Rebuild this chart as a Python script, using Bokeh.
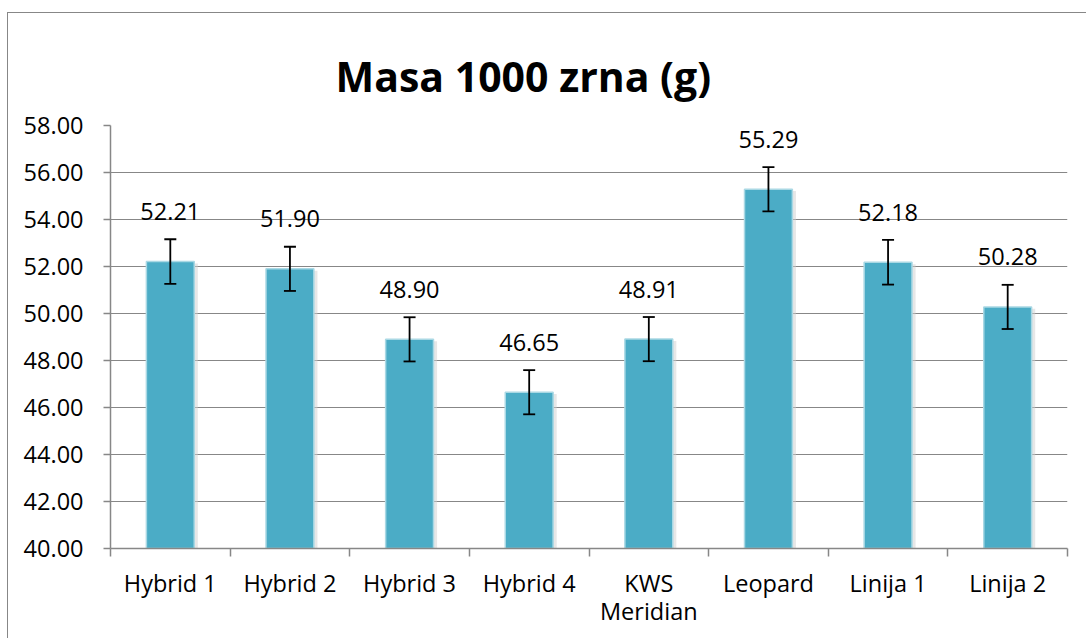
from bokeh.plotting import figure
from bokeh.models import ColumnDataSource, FixedTicker, Whisker, TeeHead, Range1d, NumeralTickFormatter, Title
from bokeh.core.properties import value
from bokeh.embed import file_html
from bokeh.resources import INLINE

categories = ["Hybrid 1", "Hybrid 2", "Hybrid 3", "Hybrid 4", "KWS\nMeridian", "Leopard", "Linija 1", "Linija 2"]
means = [52.21, 51.90, 48.90, 46.65, 48.91, 55.29, 52.18, 50.28]
errors = [0.95, 0.94, 0.94, 0.94, 0.94, 0.94, 0.95, 0.94]
y_ticks = [40, 42, 44, 46, 48, 50, 52, 54, 56, 58]

FONT = "Open Sans"
GRAY = "#878787"
FS = "23.5px"

xs = [i + 0.5 for i in range(len(categories))]
src = ColumnDataSource(dict(
    x=xs, top=means,
    upper=[m + e for m, e in zip(means, errors)],
    lower=[m - e for m, e in zip(means, errors)],
    label=[f"{m:.2f}" for m in means],
))

p = figure(frame_width=957, frame_height=423, output_backend="svg", toolbar_location=None,
           x_range=Range1d(0, len(categories)), y_range=Range1d(40, 58),
           min_border_left=102, min_border_right=19, min_border_top=112, min_border_bottom=90)
p.styles = {"border-top": "1px solid #878787", "border-left": "1px solid #878787",
            "margin-top": "12px", "margin-left": "7px"}
p.outline_line_color = None
p.background_fill_color = "white"
p.border_fill_color = "white"

t = Title(text="Masa 1000 zrna (g)", align="left", offset=225, standoff=44,
          text_font=FONT, text_font_size="41px", text_font_style="bold", text_color="black")
p.add_layout(t, "above")

# shadow
p.vbar(x=[x + 0.02 for x in xs], top=[m - 0.08 for m in means], bottom=40, width=0.42,
       fill_color="#d0d0d0", fill_alpha=0.5, line_color=None)
p.vbar(x="x", top="top", bottom=40, width=0.4, source=src,
       fill_color="#4BACC6", line_color="#A9D8E4", line_width=1.5)

w = Whisker(base="x", upper="upper", lower="lower", source=src, line_color="black", line_width=1.8,
            upper_head=TeeHead(size=12, line_color="black", line_width=1.8),
            lower_head=TeeHead(size=12, line_color="black", line_width=1.8), level="overlay")
p.add_layout(w)

p.text(x="x", y="top", text="label", source=src, text_align="center", text_baseline="middle",
       y_offset=-50, text_font=value(FONT), text_font_size=FS, text_color="black")

# y axis
p.yaxis.ticker = FixedTicker(ticks=y_ticks)
p.yaxis.formatter = NumeralTickFormatter(format="0.00")
p.yaxis.major_label_text_font = FONT
p.yaxis.major_label_text_font_size = FS
p.yaxis.major_label_text_color = "black"
p.yaxis.axis_line_color = GRAY
p.yaxis.axis_line_width = 1.5
p.yaxis.major_tick_line_color = GRAY
p.yaxis.major_tick_line_width = 1.5
p.yaxis.major_tick_out = 7
p.yaxis.major_tick_in = 0
p.yaxis.minor_tick_line_color = None
p.yaxis.major_label_standoff = 20

# x axis
p.xaxis.ticker = FixedTicker(ticks=xs, minor_ticks=list(range(len(categories) + 1)))
p.xaxis.major_label_overrides = {x: c for x, c in zip(xs, categories)}
p.xaxis.major_label_text_font = FONT
p.xaxis.major_label_text_font_size = FS
p.xaxis.major_label_text_color = "black"
p.xaxis.major_label_text_line_height = 0.9
p.xaxis.axis_line_color = GRAY
p.xaxis.axis_line_width = 1.5
p.xaxis.major_tick_line_color = None
p.xaxis.major_tick_out = 0
p.xaxis.major_tick_in = 0
p.xaxis.minor_tick_line_color = GRAY
p.xaxis.minor_tick_line_width = 1.5
p.xaxis.minor_tick_out = 8
p.xaxis.minor_tick_in = 0
p.xaxis.major_label_standoff = 10

p.xgrid.grid_line_color = None
p.ygrid.ticker = FixedTicker(ticks=y_ticks)
p.ygrid.grid_line_color = GRAY
p.ygrid.grid_line_width = 1.2

open("out.html", "w").write(file_html(p, INLINE))
